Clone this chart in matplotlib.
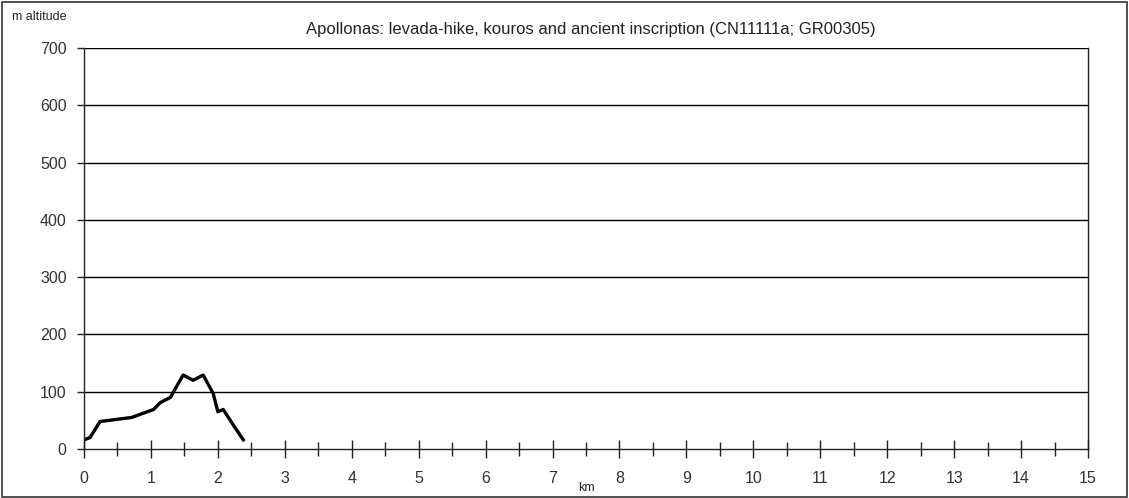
import matplotlib
matplotlib.use("Agg")
import matplotlib.pyplot as plt
from matplotlib.patches import Rectangle
from matplotlib.ticker import MultipleLocator

plt.rcParams['font.family'] = ['Liberation Sans', 'DejaVu Sans']

km = [0.0, 0.09, 0.24, 0.71, 1.04, 1.14, 1.29, 1.48, 1.63, 1.78, 1.93, 2.0, 2.08, 2.23, 2.38]
altitude = [16, 20, 48, 55, 69, 81, 90, 129, 120, 129, 97, 65, 69, 42, 16]

title = "Apollonas: levada-hike, kouros and ancient inscription (CN11111a; GR00305)"
x_ticks = list(range(0, 16))
y_ticks = list(range(0, 701, 100))

W, H = 1129, 498
fig = plt.figure(figsize=(W / 100, H / 100), dpi=100)
ax = fig.add_axes([84 / W, 1 - 449 / H, (1088 - 84) / W, (449 - 48) / H])

ax.plot(km, altitude, color='black', linewidth=2.4, solid_joinstyle='round')

ax.set_xlim(0, 15)
ax.set_ylim(0, 700)
ax.set_xticks(x_ticks)
ax.xaxis.set_minor_locator(MultipleLocator(0.5))
ax.set_yticks(y_ticks)
for y in y_ticks[1:]:
    ax.axhline(y, color='black', linewidth=1.0, zorder=0)

ax.spines['top'].set_visible(False)
for s in ax.spines.values():
    s.set_color('#222222')
    s.set_linewidth(1.0)

ax.tick_params(axis='x', which='major', direction='inout', length=13, width=1.0,
               labelsize=11.5, pad=9, colors='#222222', labelcolor='#333333')
ax.tick_params(axis='x', which='minor', direction='inout', length=10, width=1.0, colors='#222222')
ax.tick_params(axis='y', which='major', direction='out', length=5, width=1.0,
               labelsize=11.5, pad=7.5, colors='#222222', labelcolor='#333333')

fig.text(591 / W, 1 - 29 / H, title, ha='center', va='center', fontsize=12, color='#222222')
fig.text(12 / W, 1 - 17 / H, "m altitude", ha='left', va='center', fontsize=9, color='#222222')
fig.text(586 / W, 1 - 488 / H, "km", ha='center', va='center', fontsize=9, color='#222222')

fig.patches.append(Rectangle((2 / W, 1.5 / H), (W - 4.5) / W, (H - 4) / H, transform=fig.transFigure,
                             fill=False, edgecolor='#333333', linewidth=1.2))

fig.savefig("out.png", dpi=100, facecolor='white')
